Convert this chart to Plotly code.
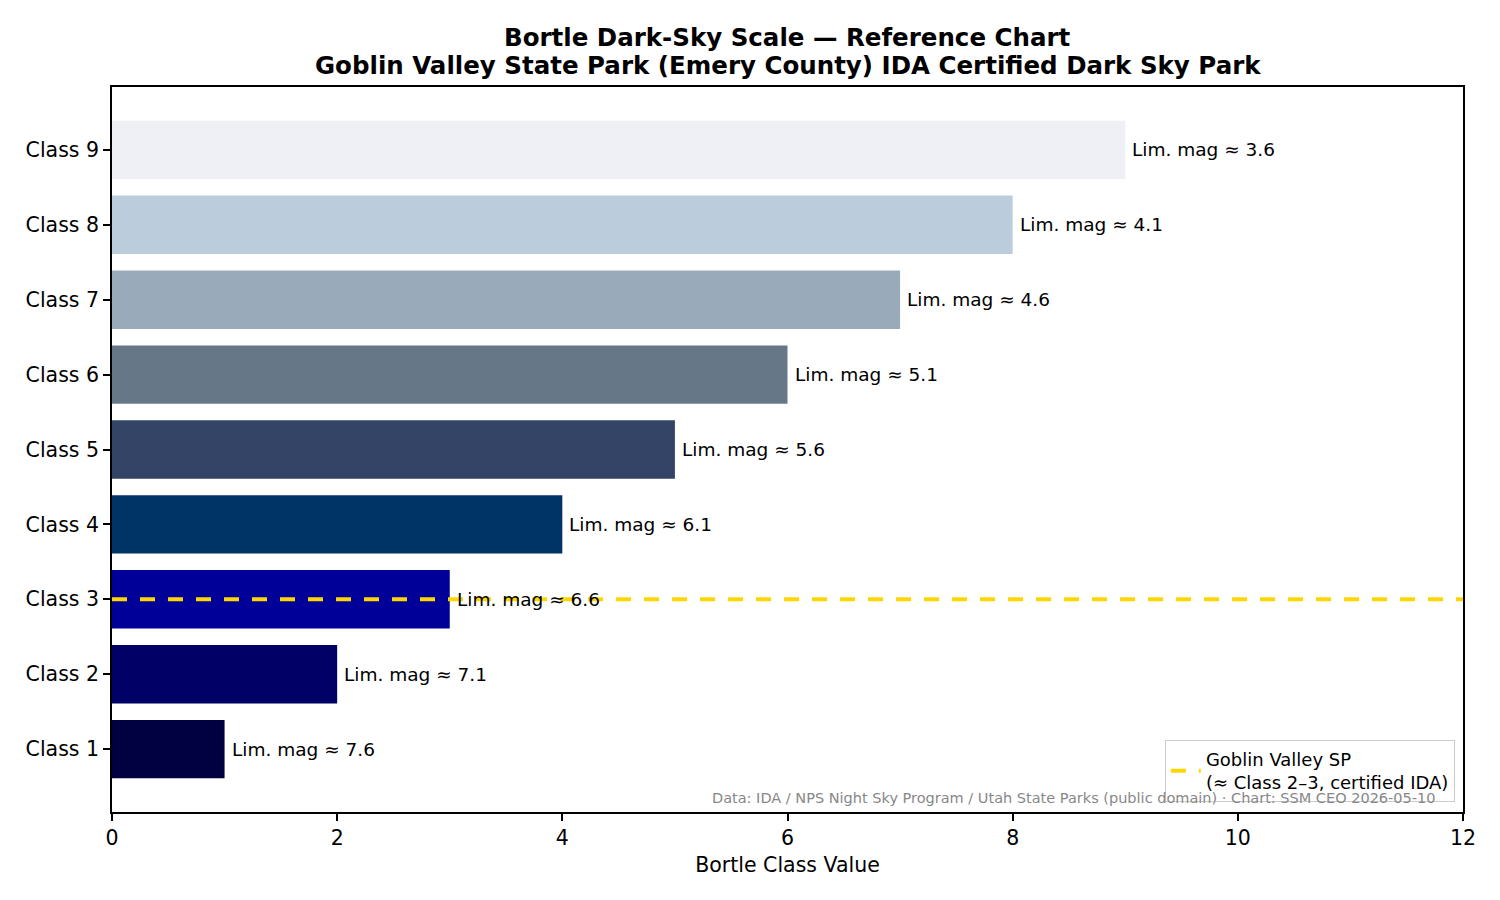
import plotly.graph_objects as go

classes = ['Class 1', 'Class 2', 'Class 3', 'Class 4', 'Class 5',
           'Class 6', 'Class 7', 'Class 8', 'Class 9']
bortle_values = [1, 2, 3, 4, 5, 6, 7, 8, 9]
lim_mag = [7.6, 7.1, 6.6, 6.1, 5.6, 5.1, 4.6, 4.1, 3.6]
bar_colors = ['#000040', '#000066', '#000099', '#003366', '#334466',
              '#667788', '#99aabb', '#bbccdd', '#eef0f5']
park_class = 3
x_ticks = [0, 2, 4, 6, 8, 10, 12]
title_lines = ['Bortle Dark-Sky Scale — Reference Chart',
               'Goblin Valley State Park (Emery County) IDA Certified Dark Sky Park']

positions = list(range(len(classes)))

fig = go.Figure()

fig.add_trace(
    go.Bar(
        x=bortle_values,
        y=positions,
        orientation='h',
        width=0.78,
        marker=dict(color=bar_colors, line=dict(width=0)),
        showlegend=False,
        hoverinfo='skip'
    )
)

park_y = classes.index(f'Class {park_class}')
fig.add_trace(
    go.Scatter(
        x=[x_ticks[0], x_ticks[-1]],
        y=[park_y, park_y],
        mode='lines',
        line=dict(color='#FFD700', width=4, dash='15px,13px'),
        name='Goblin Valley SP<br>(≈ Class 2–3, certified IDA)'
    )
)

for pos, val, mag in zip(positions, bortle_values, lim_mag):
    fig.add_annotation(
        x=val, y=pos,
        text=f'Lim. mag ≈ {mag}',
        showarrow=False,
        xanchor='left',
        xshift=5,
        font=dict(size=18.5, color='black')
    )

fig.add_annotation(
    xref='paper', yref='paper',
    x=0.981, y=0.006,
    xanchor='right', yanchor='bottom',
    text='Data: IDA / NPS Night Sky Program / Utah State Parks (public domain) · Chart: SSM CEO 2026-05-10',
    showarrow=False,
    font=dict(size=14.5, color='#888888')
)

# title as two lines, matplotlib-like tight spacing
for line, ty in zip(title_lines, [1.0676, 1.029]):
    fig.add_annotation(
        xref='paper', yref='paper',
        x=0.5, y=ty,
        xanchor='center', yanchor='middle',
        text=f'<b>{line}</b>',
        showarrow=False,
        font=dict(size=24.5, color='black')
    )

fig.update_xaxes(
    range=[0, 12],
    tickvals=x_ticks,
    ticks='outside',
    ticklen=7,
    tickwidth=1.6,
    tickcolor='black',
    showline=True,
    linecolor='black',
    linewidth=1.6,
    mirror=True,
    showgrid=False,
    zeroline=False,
    tickfont=dict(size=20.5, color='black'),
    title=dict(text='Bortle Class Value', font=dict(size=20.5, color='black'), standoff=8)
)
fig.update_yaxes(
    range=[-0.84, 8.84],
    tickvals=positions,
    ticktext=classes,
    ticks='outside',
    ticklen=7,
    tickwidth=1.6,
    tickcolor='black',
    showline=True,
    linecolor='black',
    linewidth=1.6,
    mirror=True,
    showgrid=False,
    zeroline=False,
    tickfont=dict(size=20.5, color='black')
)

fig.update_layout(
    width=1500,
    height=900,
    margin=dict(l=104, r=45, t=79, b=96),
    plot_bgcolor='#FFFFFF',
    paper_bgcolor='#FFFFFF',
    font=dict(family='DejaVu Sans', color='black'),
    legend=dict(
        x=0.994, y=0.014,
        xanchor='right', yanchor='bottom',
        bgcolor='rgba(255,255,255,0.8)',
        bordercolor='#cccccc',
        borderwidth=1,
        font=dict(size=18, color='black')
    ),
    showlegend=True
)

fig.write_html('out.html')
